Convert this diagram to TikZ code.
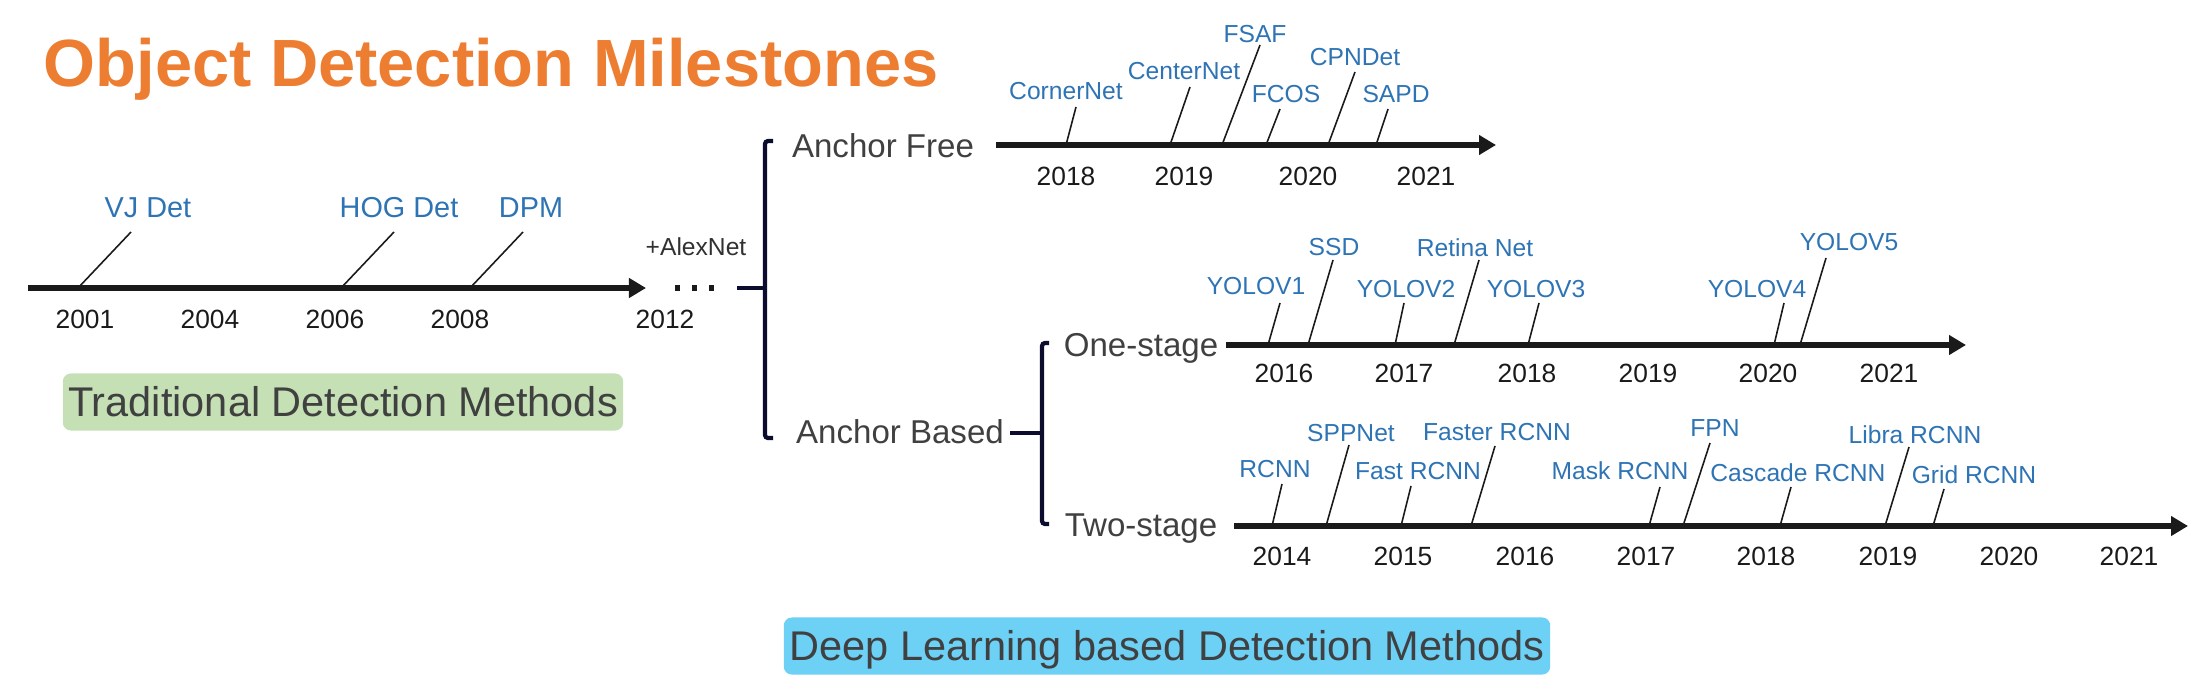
\documentclass[tikz,border=0pt]{standalone}
\usepackage{fontspec}
\setmainfont{Liberation Sans}
\usetikzlibrary{positioning,arrows.meta,calc}
\definecolor{cTitle}{HTML}{ED7D31}
\definecolor{cMile}{HTML}{2E74B5}
\definecolor{cInk}{HTML}{404040}
\definecolor{cYear}{HTML}{1A1A1A}
\definecolor{cNavy}{HTML}{0C0C2E}
\definecolor{cGreen}{HTML}{C5E0B4}
\definecolor{cSky}{HTML}{6DD0F5}
\begin{document}
\begin{tikzpicture}[x=0.01cm,y=-0.01cm,
    axis/.style={line width=1.56pt,cYear,-{Triangle[length=0.17cm,width=0.19cm]}},
    tick/.style={line width=0.45pt,cYear},
    brace/.style={line width=1.2pt,cNavy,rounded corners=0.03cm},
    mile/.style={inner sep=0pt,anchor=base,text=cMile,font=\fontsize{7}{8}\selectfont},
    tmile/.style={mile,font=\fontsize{8.2}{9}\selectfont},
    yr/.style={inner sep=0pt,anchor=base,text=cYear,font=\fontsize{7.5}{9}\selectfont},
    cat/.style={inner sep=0pt,anchor=base,text=cInk,font=\fontsize{9.4}{11}\selectfont},
    band/.style={rounded corners=0.08cm,inner sep=0pt,text=cInk,text height=8.4pt,text depth=0pt,
                 minimum height=0.57cm,font=\fontsize{11.8}{14}\selectfont}]
  \useasboundingbox (0,0) rectangle (2209,697);
  % title
  \node[inner sep=0pt,anchor=base west,text=cTitle,font=\fontsize{19}{22}\bfseries\selectfont] (title) at (43,87) {Object Detection Milestones};

  % traditional track
  \coordinate (t0) at (28,288); \coordinate (t1) at (646,288);
  \draw[axis] (t0) -- (t1);
  \node[tmile] (vj) at (148,217) {VJ Det};
  \coordinate (vj0) at (78,288); \coordinate (vj1) at (131,232); \draw[tick] (vj0) -- (vj1);
  \node[tmile] (hog) at (399,217) {HOG Det};
  \coordinate (hog0) at (341,288); \coordinate (hog1) at (394,232); \draw[tick] (hog0) -- (hog1);
  \node[tmile] (dpm) at (531,217) {DPM};
  \coordinate (dpm0) at (470,288); \coordinate (dpm1) at (523,232); \draw[tick] (dpm0) -- (dpm1);
  \node[yr] (y2001) at (85,328) {2001};
  \node[yr] (y2004) at (210,328) {2004};
  \node[yr] (y2006) at (335,328) {2006};
  \node[yr] (y2008) at (460,328) {2008};
  \node[yr] (y2012) at (665,328) {2012};
  \node[inner sep=0pt,anchor=base,text=cYear!90!white,font=\fontsize{7}{8}\selectfont] (alex) at (696,255) {+AlexNet};
  \coordinate (d0) at (675,288); \coordinate (d1) at (716,288);
  \draw[line width=1.6pt,cYear,dash pattern=on 0.045cm off 0.125cm] (d0) -- (d1);
  \node[band,fill=cGreen,minimum width=5.6cm] (trad) at (343,402) {Traditional Detection Methods};

  % anchor free / anchor based split
  \coordinate (s0) at (737,288); \coordinate (s1) at (765,288);
  \draw[brace] (s0) -- (s1);
  \coordinate (b0) at (773,141); \coordinate (b1) at (773,438);
  \draw[brace] (b0) -- ++(-8,0) |- (b1);
  \node[cat] (af) at (883,157) {Anchor Free};
  \node[cat] (ab) at (900,443) {Anchor Based};

  % anchor free track
  \coordinate (f0) at (996,145); \coordinate (f1) at (1496,145);
  \draw[axis] (f0) -- (f1);
  \node[mile] (cnet) at (1066,100) {CornerNet};
  \coordinate (cnet0) at (1066,145); \coordinate (cnet1) at (1076,107); \draw[tick] (cnet0) -- (cnet1);
  \node[mile] (ctnet) at (1184,80) {CenterNet};
  \coordinate (ctnet0) at (1170,145); \coordinate (ctnet1) at (1190,87); \draw[tick] (ctnet0) -- (ctnet1);
  \node[mile] (fsaf) at (1255,42) {FSAF};
  \coordinate (fsaf0) at (1222,145); \coordinate (fsaf1) at (1260,45); \draw[tick] (fsaf0) -- (fsaf1);
  \node[mile] (fcos) at (1286,102) {FCOS};
  \coordinate (fcos0) at (1266,145); \coordinate (fcos1) at (1280,109); \draw[tick] (fcos0) -- (fcos1);
  \node[mile] (cpn) at (1355,65) {CPNDet};
  \coordinate (cpn0) at (1328,145); \coordinate (cpn1) at (1355,72); \draw[tick] (cpn0) -- (cpn1);
  \node[mile] (sapd) at (1396,102) {SAPD};
  \coordinate (sapd0) at (1376,145); \coordinate (sapd1) at (1388,109); \draw[tick] (sapd0) -- (sapd1);
  \node[yr] (f2018) at (1066,185) {2018};
  \node[yr] (f2019) at (1184,185) {2019};
  \node[yr] (f2020) at (1308,185) {2020};
  \node[yr] (f2021) at (1426,185) {2021};

  % one-stage / two-stage split
  \coordinate (a0) at (1010,433); \coordinate (a1) at (1042,433);
  \draw[brace] (a0) -- (a1);
  \coordinate (c0) at (1049,343); \coordinate (c1) at (1049,524);
  \draw[brace] (c0) -- ++(-7,0) |- (c1);
  \node[cat] (one) at (1141,356) {One-stage};
  \node[cat] (two) at (1141,536) {Two-stage};

  % one-stage track
  \coordinate (o0) at (1226,345); \coordinate (o1) at (1966,345);
  \draw[axis] (o0) -- (o1);
  \node[mile] (yv1) at (1256,294) {YOLOV1};
  \coordinate (yv10) at (1268,345); \coordinate (yv11) at (1280,303); \draw[tick] (yv10) -- (yv11);
  \node[mile] (ssd) at (1334,255) {SSD};
  \coordinate (ssd0) at (1308,345); \coordinate (ssd1) at (1333,260); \draw[tick] (ssd0) -- (ssd1);
  \node[mile] (yv2) at (1406,297) {YOLOV2};
  \coordinate (yv20) at (1395,345); \coordinate (yv21) at (1404,303); \draw[tick] (yv20) -- (yv21);
  \node[mile] (ret) at (1475,256) {Retina Net};
  \coordinate (ret0) at (1454,345); \coordinate (ret1) at (1479,260); \draw[tick] (ret0) -- (ret1);
  \node[mile] (yv3) at (1536,297) {YOLOV3};
  \coordinate (yv30) at (1528,345); \coordinate (yv31) at (1539,303); \draw[tick] (yv30) -- (yv31);
  \node[mile] (yv4) at (1757,297) {YOLOV4};
  \coordinate (yv40) at (1774,345); \coordinate (yv41) at (1784,303); \draw[tick] (yv40) -- (yv41);
  \node[mile] (yv5) at (1849,250) {YOLOV5};
  \coordinate (yv50) at (1800,345); \coordinate (yv51) at (1826,258); \draw[tick] (yv50) -- (yv51);
  \node[yr] (o2016) at (1284,382) {2016};
  \node[yr] (o2017) at (1404,382) {2017};
  \node[yr] (o2018) at (1527,382) {2018};
  \node[yr] (o2019) at (1648,382) {2019};
  \node[yr] (o2020) at (1768,382) {2020};
  \node[yr] (o2021) at (1889,382) {2021};

  % two-stage track
  \coordinate (w0) at (1234,526); \coordinate (w1) at (2188,526);
  \draw[axis] (w0) -- (w1);
  \node[mile] (rcnn) at (1275,477) {RCNN};
  \coordinate (rcnn0) at (1272,526); \coordinate (rcnn1) at (1282,484); \draw[tick] (rcnn0) -- (rcnn1);
  \node[mile] (spp) at (1351,441) {SPPNet};
  \coordinate (spp0) at (1326,526); \coordinate (spp1) at (1349,445); \draw[tick] (spp0) -- (spp1);
  \node[mile] (fast) at (1418,479) {Fast RCNN};
  \coordinate (fast0) at (1401,526); \coordinate (fast1) at (1411,486); \draw[tick] (fast0) -- (fast1);
  \node[mile] (faster) at (1497,440) {Faster RCNN};
  \coordinate (faster0) at (1471,526); \coordinate (faster1) at (1495,446); \draw[tick] (faster0) -- (faster1);
  \node[mile] (mask) at (1620,479) {Mask RCNN};
  \coordinate (mask0) at (1649,526); \coordinate (mask1) at (1660,487); \draw[tick] (mask0) -- (mask1);
  \node[mile] (fpn) at (1715,436) {FPN};
  \coordinate (fpn0) at (1683,526); \coordinate (fpn1) at (1710,443); \draw[tick] (fpn0) -- (fpn1);
  \node[mile] (casc) at (1798,481) {Cascade RCNN};
  \coordinate (casc0) at (1780,526); \coordinate (casc1) at (1791,487); \draw[tick] (casc0) -- (casc1);
  \node[mile] (libra) at (1915,443) {Libra RCNN};
  \coordinate (libra0) at (1885,526); \coordinate (libra1) at (1909,447); \draw[tick] (libra0) -- (libra1);
  \node[mile] (grid) at (1974,483) {Grid RCNN};
  \coordinate (grid0) at (1933,526); \coordinate (grid1) at (1944,489); \draw[tick] (grid0) -- (grid1);
  \node[yr] (w2014) at (1282,565) {2014};
  \node[yr] (w2015) at (1403,565) {2015};
  \node[yr] (w2016) at (1525,565) {2016};
  \node[yr] (w2017) at (1646,565) {2017};
  \node[yr] (w2018) at (1766,565) {2018};
  \node[yr] (w2019) at (1888,565) {2019};
  \node[yr] (w2020) at (2009,565) {2020};
  \node[yr] (w2021) at (2129,565) {2021};

  % deep learning band
  \node[band,fill=cSky,minimum width=7.66cm] (deep) at (1167,646) {Deep Learning based Detection Methods};
\end{tikzpicture}
\end{document}
